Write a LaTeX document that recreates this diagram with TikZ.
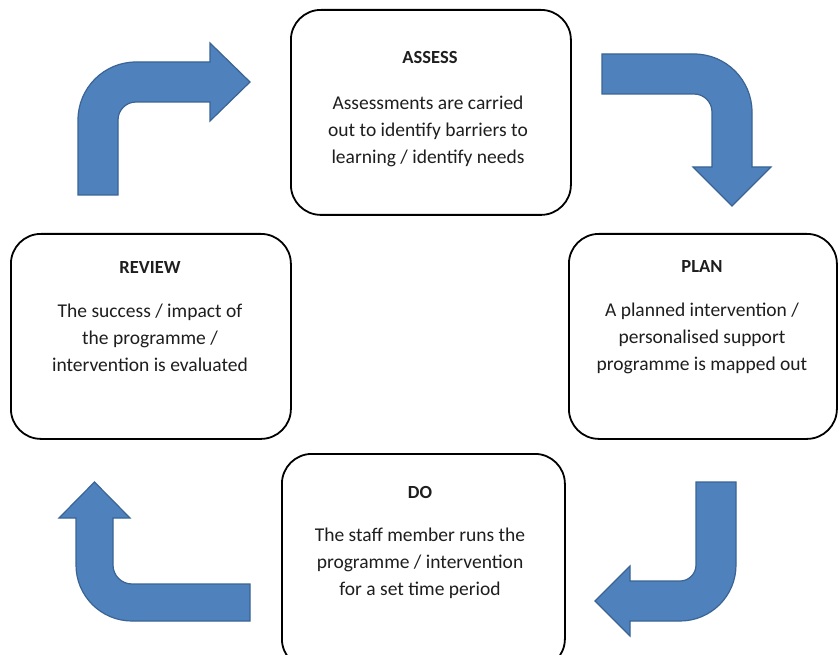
\documentclass[tikz,border=0pt]{standalone}
\usepackage{fontspec}
\setmainfont{Carlito}
\definecolor{arrowblue}{HTML}{4F81BD}
\definecolor{arrowedge}{HTML}{3A6494}
\definecolor{txt}{RGB}{30,30,30}
\begin{document}
\begin{tikzpicture}[x=1pt,y=-1pt,
  box/.style={draw=black, line width=1.8pt, rounded corners=30pt, fill=white, inner sep=0pt, anchor=north west},
  arrowshape/.style={fill=arrowblue, draw=arrowedge, line width=1.2pt, line join=miter},
  title/.style={font=\fontsize{18.5}{22}\selectfont\bfseries, text=txt, inner sep=0pt},
  body/.style={font=\fontsize{19.5}{27}\selectfont, text=txt, align=center, inner sep=0pt}]
\useasboundingbox (0,0) rectangle (838,655);
\clip (0,0) rectangle (838,655);
\fill[white] (0,0) rectangle (838,655);

% boxes
\node[box, minimum width=280pt, minimum height=205pt] (assess) at (290,9) {};
\node[box, minimum width=280pt, minimum height=205pt] (review) at (10,233) {};
\node[box, minimum width=268pt, minimum height=205pt] (plan) at (568,233) {};
\node[box, minimum width=283pt, minimum height=215pt] (do) at (281,453) {};

% texts
\node[title] (assessT) at (430,57) {ASSESS};
\node[body] (assessB) at (428,131) {Assessments are carried\\out to identify barriers to\\learning / identify needs};
\node[title] (reviewT) at (150,268) {REVIEW};
\node[body] (reviewB) at (150,338) {The success / impact of\\the programme /\\intervention is evaluated};
\node[title] (planT) at (702,267) {PLAN};
\node[body] (planB) at (702,338) {A planned intervention /\\personalised support\\programme is mapped out};
\node[title] (doT) at (420,492) {DO};
\node[body] (doB) at (420,563) {The staff member runs the\\programme / intervention\\for a set time period};

% arrow 1: up then right
\draw[arrowshape] (78,195) -- (78,120) arc(180:270:58) -- (210,62) -- (210,43) -- (250,82)
  -- (210,121) -- (210,102) -- (136,102) arc(270:180:18) -- (118,195) -- cycle;
% arrow 2: right then down
\draw[arrowshape] (602,54) -- (694,54) arc(270:360:58) -- (752,167) -- (771,167) -- (732,206)
  -- (693,167) -- (712,167) -- (712,112) arc(0:-90:18) -- (602,94) -- cycle;
% arrow 3: down then left
\draw[arrowshape] (696,482) -- (736,482) -- (736,565) arc(0:90:56) -- (630,621) -- (630,636)
  -- (595,601) -- (630,566) -- (630,581) -- (680,581) arc(90:0:16) -- cycle;
% arrow 4: left then up
\draw[arrowshape] (250,584) -- (250,621) -- (132,621) arc(90:180:56) -- (76,518) -- (59,518)
  -- (94.5,482) -- (130,518) -- (113,518) -- (113,565) arc(180:90:19) -- cycle;
\end{tikzpicture}
\end{document}
